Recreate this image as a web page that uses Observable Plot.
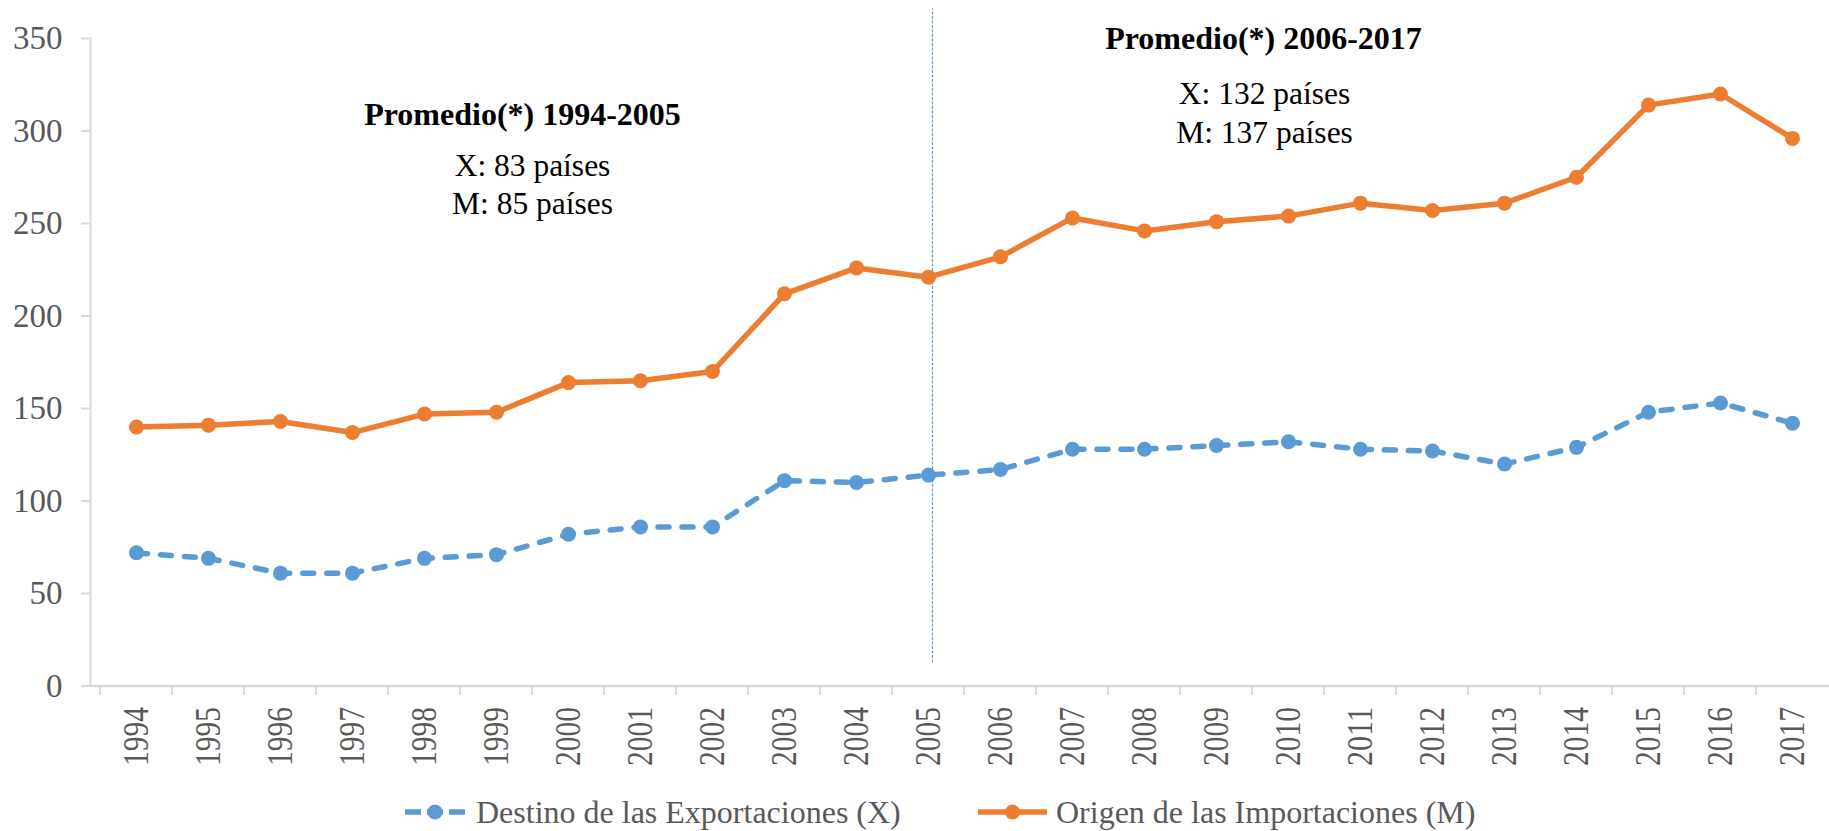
<!DOCTYPE html>
<html>
<head>
<meta charset="utf-8">
<script src="https://cdn.jsdelivr.net/npm/d3@7"></script>
<script src="https://cdn.jsdelivr.net/npm/@observablehq/plot@0.6"></script>
<style>
  html, body { margin: 0; padding: 0; background: white; }
  #wrap { position: relative; width: 1829px; height: 831px; overflow: hidden; font-family: "Liberation Serif", "Times New Roman", serif; }
  #legend { position: absolute; left: 0; top: 790px; height: 44px; width: 1829px; }
  .item { position: absolute; top: 0; height: 44px; display: flex; align-items: center; color: #595959; font-size: 32px; white-space: nowrap; }
  .item svg { margin-right: 8px; }
</style>
</head>
<body>
<div id="wrap"><div id="chart"></div><div id="legend"></div></div>
<script>
const years = ["1994","1995","1996","1997","1998","1999","2000","2001","2002","2003","2004","2005",
               "2006","2007","2008","2009","2010","2011","2012","2013","2014","2015","2016","2017"];
const exportsX = [72, 69, 61, 61, 69, 71, 82, 86, 86, 111, 110, 114,
                  117, 128, 128, 130, 132, 128, 127, 120, 129, 148, 153, 142];
const importsM = [140, 141, 143, 137, 147, 148, 164, 165, 170, 212, 226, 221,
                  232, 253, 246, 251, 254, 261, 257, 261, 275, 314, 320, 296];
const seriesNames = ["Destino de las Exportaciones (X)", "Origen de las Importaciones (M)"];
const seriesColors = ["#5b9bd5", "#ed7d31"];
const yTicks = [0, 50, 100, 150, 200, 250, 300, 350];
const dividerYear = "2005";
const annotations = [
  {year: "1999", value: 309, text: "Promedio(*) 1994-2005", bold: true, dx: 26},
  {year: "1999", value: 281, text: "X: 83 países", bold: false, dx: 36},
  {year: "1999", value: 260.5, text: "M: 85 países", bold: false, dx: 36},
  {year: "2009", value: 350, text: "Promedio(*) 2006-2017", bold: true, dx: 47},
  {year: "2009", value: 320, text: "X: 132 países", bold: false, dx: 48},
  {year: "2009", value: 299, text: "M: 137 países", bold: false, dx: 48}
];

const xData = years.map((y, i) => ({year: y, value: exportsX[i]}));
const mData = years.map((y, i) => ({year: y, value: importsM[i]}));

const W = 1829, H = 780;
const x0 = 89.7, x1 = 1839.3;
const bw = (x1 - x0) / years.length;

const chart = Plot.plot({
  width: W,
  height: H,
  marginLeft: 90,
  marginRight: 0,
  marginTop: 38,
  marginBottom: 94.5,
  style: {fontFamily: "Liberation Serif, Times New Roman, serif", fontSize: "32px", color: "#595959", background: "white", overflow: "visible"},
  x: {type: "band", domain: years, range: [x0, x1], padding: 0, label: null},
  y: {domain: [0, 350], label: null},
  marks: [
    Plot.frame({anchor: "left", stroke: "#d9d9d9", strokeWidth: 2}),
    Plot.ruleY([0], {stroke: "#d9d9d9", strokeWidth: 2.5}),
    Plot.axisY({ticks: yTicks, tickSize: 9, tickFormat: () => "", stroke: "#d9d9d9", strokeWidth: 2, label: null}),
    Plot.axisY({ticks: yTicks, tickSize: 0, tickPadding: 28, fill: "#595959", fontSize: 33, label: null}),
    Plot.axisX({tickSize: 9.5, tickFormat: () => "", dx: -bw / 2, stroke: "#d9d9d9", strokeWidth: 2, label: null}),
    Plot.axisX({tickSize: 0, tickPadding: 21, tickRotate: -90, fill: "#595959", fontSize: 36, label: null}),
    Plot.ruleX([dividerYear], {dx: 4, y1: 12.5, y2: 366, stroke: "#5b9bd5", strokeWidth: 1.2, strokeDasharray: "3,1.5"}),
    Plot.line(mData, {x: "year", y: "value", stroke: seriesColors[1], strokeWidth: 5.5, strokeLinejoin: "round", strokeLinecap: "round"}),
    Plot.dot(mData, {x: "year", y: "value", r: 7.5, fill: seriesColors[1], stroke: "none"}),
    Plot.line(xData, {x: "year", y: "value", stroke: seriesColors[0], strokeWidth: 5.5, strokeDasharray: "11,13", strokeLinecap: "round", strokeLinejoin: "round"}),
    Plot.dot(xData, {x: "year", y: "value", r: 7.5, fill: seriesColors[0], stroke: "none"}),
    ...annotations.map(a => Plot.text([a], {
      x: "year", y: "value", text: "text", dx: a.dx, fill: "black",
      fontWeight: a.bold ? "bold" : "normal", fontSize: a.bold ? 32 : 31.5,
      fontFamily: "Liberation Serif, Times New Roman, serif"
    }))
  ]
});
document.getElementById("chart").appendChild(chart);

// year labels: narrow the rotated labels to the reference's length
const yearSet = new Set(years);
chart.querySelectorAll("text").forEach(t => {
  if (yearSet.has(t.textContent.trim())) {
    t.setAttribute("textLength", "59");
    t.setAttribute("lengthAdjust", "spacingAndGlyphs");
  }
});

// legend
const legend = document.getElementById("legend");
const legendLefts = [402, 977];
seriesNames.forEach((name, i) => {
  const item = document.createElement("div");
  item.className = "item";
  item.style.left = legendLefts[i] + "px";
  const w = i === 0 ? 66 : 71;
  const sym = i === 0
    ? `<svg width="${w}" height="20"><line x1="3" y1="10" x2="${w-3}" y2="10" stroke="${seriesColors[0]}" stroke-width="5.5" stroke-dasharray="16,6" stroke-linecap="butt"/><circle cx="${w/2}" cy="10" r="7.5" fill="${seriesColors[0]}"/></svg>`
    : `<svg width="${w}" height="20"><line x1="1" y1="10" x2="${w-1}" y2="10" stroke="${seriesColors[1]}" stroke-width="5.5"/><circle cx="${w/2}" cy="10" r="7.5" fill="${seriesColors[1]}"/></svg>`;
  item.innerHTML = sym + `<span>${name}</span>`;
  legend.appendChild(item);
});
</script>
</body>
</html>
